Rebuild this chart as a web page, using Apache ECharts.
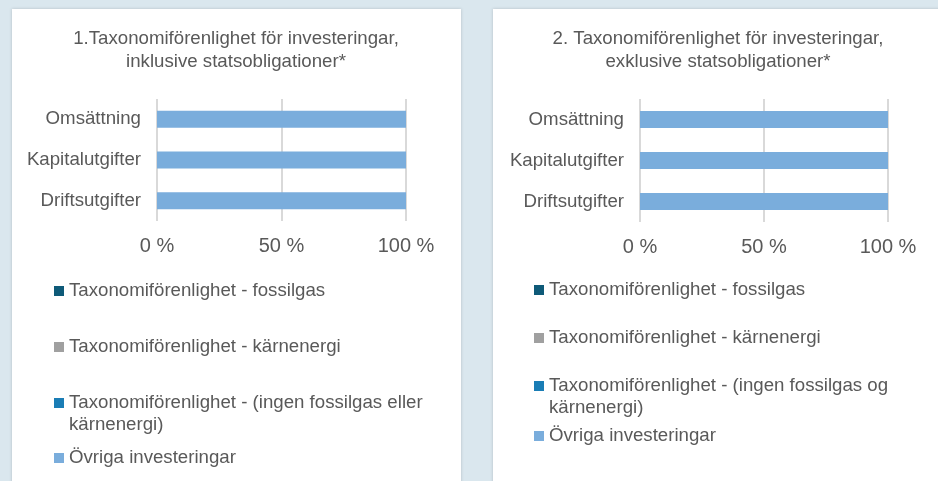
<!DOCTYPE html>
<html><head><meta charset="utf-8">
<script src="https://cdn.jsdelivr.net/npm/echarts@6/dist/echarts.min.js"></script>
<style>html,body{margin:0;padding:0;background:#dae7ee}#c{width:938px;height:481px}</style>
</head><body><div id="c"></div>
<script>
const categories = ['Omsättning', 'Kapitalutgifter', 'Driftsutgifter'];
const xTicks = [0, 50, 100];
const titleLeft = '1.Taxonomiförenlighet för investeringar,\ninklusive statsobligationer*';
const titleRight = '2. Taxonomiförenlighet för investeringar,\nexklusive statsobligationer*';
const namesLeft = ['Taxonomiförenlighet - fossilgas', 'Taxonomiförenlighet - kärnenergi', 'Taxonomiförenlighet - (ingen fossilgas eller kärnenergi)', 'Övriga investeringar'];
const namesRight = ['Taxonomiförenlighet - fossilgas ', 'Taxonomiförenlighet - kärnenergi ', 'Taxonomiförenlighet - (ingen fossilgas og kärnenergi)', 'Övriga investeringar '];
// values in % per category (Omsättning, Kapitalutgifter, Driftsutgifter)
const fossilgasLeft = [0, 0, 0];
const karnenergiLeft = [0, 0, 0];
const ingenLeft = [0, 0, 0];
const ovrigaLeft = [100, 100, 100];
const fossilgasRight = [0, 0, 0];
const karnenergiRight = [0, 0, 0];
const ingenRight = [0, 0, 0];
const ovrigaRight = [100, 100, 100];

const colors = ['#0e5a78', '#a0a0a0', '#1a7db5', '#7aaddc'];
const txt = '#595959';
const font = 'Liberation Sans, Arial, sans-serif';

const chart = echarts.init(document.getElementById('c'));
function mkX(idx) {
  return { type: 'value', gridIndex: idx, min: xTicks[0], max: xTicks[xTicks.length-1], interval: xTicks[1]-xTicks[0],
    axisLine: {show: false}, axisTick: {show: false},
    splitLine: {show: true, lineStyle: {color: '#d9d9d9', width: 2}},
    axisLabel: {formatter: '{value} %', color: txt, fontSize: 20, fontFamily: font, margin: 15} };
}
function mkY(idx) {
  return { type: 'category', gridIndex: idx, data: categories, inverse: true,
    axisLine: {show: false}, axisTick: {show: false},
    axisLabel: {color: txt, fontSize: 18.67, fontFamily: font, margin: 16} };
}
const seriesData = [[fossilgasLeft, karnenergiLeft, ingenLeft, ovrigaLeft], [fossilgasRight, karnenergiRight, ingenRight, ovrigaRight]];
const nameSets = [namesLeft, namesRight];
const series = [];
for (let p = 0; p < 2; p++) {
  for (let i = 0; i < 4; i++) {
    series.push({ type: 'bar', name: nameSets[p][i], xAxisIndex: p, yAxisIndex: p, stack: 's' + p,
      barWidth: 17, itemStyle: {color: colors[i]}, data: seriesData[p][i], silent: true });
  }
}
const legendTops = [[280, 336, 370, 447], [279, 327, 353, 425]];
const legendLefts = [54, 534];
const wrapW = [380, 370];
const legends = [];
for (let p = 0; p < 2; p++) {
  for (let i = 0; i < 4; i++) {
    const wrapped = i === 2;
    const lg = { data: [nameSets[p][i]], left: legendLefts[p], top: legendTops[p][i], padding: 0,
      itemWidth: 10, itemHeight: 10, icon: 'rect', selectedMode: false,
      textStyle: wrapped ? {color: txt, fontSize: 18.67, fontFamily: font, lineHeight: 22, width: wrapW[p], overflow: 'break'}
                         : {color: txt, fontSize: 18.67, fontFamily: font, lineHeight: 22} };
    if (wrapped) lg.formatter = function (n) { return '\n' + n; };
    legends.push(lg);
  }
}
chart.setOption({
  animation: false,
  backgroundColor: '#dae7ee',
  color: colors,
  graphic: [
    {type: 'rect', shape: {x: 12, y: 9, width: 449, height: 480}, style: {fill: '#fff', shadowBlur: 3, shadowColor: 'rgba(0,0,0,0.18)'}, z: -10},
    {type: 'rect', shape: {x: 493, y: 9, width: 460, height: 480}, style: {fill: '#fff', shadowBlur: 3, shadowColor: 'rgba(0,0,0,0.18)'}, z: -10}
  ],
  title: [
    {text: titleLeft, left: 236, top: 27, padding: 0, textAlign: 'center', textStyle: {color: txt, fontSize: 18.67, fontWeight: 'normal', fontFamily: font, lineHeight: 23}},
    {text: titleRight, left: 718, top: 27, padding: 0, textAlign: 'center', textStyle: {color: txt, fontSize: 18.67, fontWeight: 'normal', fontFamily: font, lineHeight: 23}}
  ],
  legend: legends,
  grid: [
    {left: 157, top: 99, width: 249, height: 122},
    {left: 640, top: 99, width: 248, height: 123}
  ],
  xAxis: [mkX(0), mkX(1)],
  yAxis: [mkY(0), mkY(1)],
  series: series
});
</script></body></html>
